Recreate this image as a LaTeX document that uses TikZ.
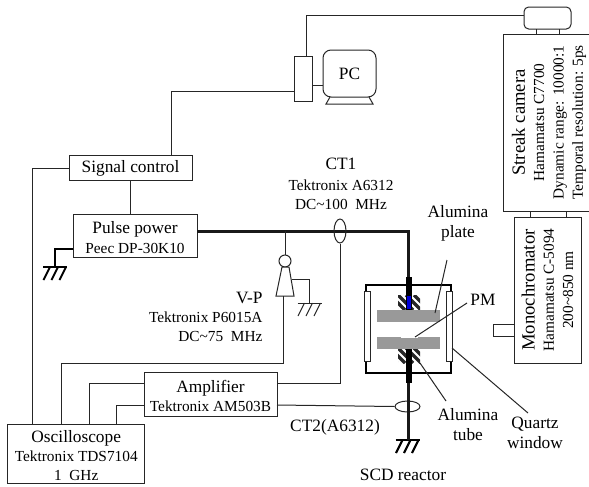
\documentclass[tikz,border=0pt]{standalone}
\usepackage{fontspec}
\setmainfont{Liberation Serif}
\usetikzlibrary{shapes.geometric}

\newcommand{\headfont}{\fontsize{13}{15}\selectfont}
\newcommand{\subfont}{\fontsize{11.5}{14.5}\selectfont}
\newcommand{\headgap}{\rule{0pt}{12pt}}

\tikzset{every picture/.style={line width=0.75pt},
  thin line/.style={draw=black!85,line width=0.75pt},
  heavy line/.style={draw=black!90,line width=2.25pt},
  box/.style={draw=black!85,line width=0.75pt,rectangle,fill=white,inner sep=0pt,align=center,font=\subfont},
  plate/.style={rectangle,fill=black!40,inner sep=0pt,minimum width=47.25pt,minimum height=9pt},
  windowbar/.style={box,minimum width=4.5pt,minimum height=52.5pt},
  label/.style={inner sep=0pt,align=center,font=\subfont},
  bigger label/.style={inner sep=0pt,align=center,font=\headfont},
  pics/earthmark/.style={code={
    \coordinate (-top) at (0,0);
    \draw (-12,0) -- (12,0);
    \foreach \tipx in {-8,0,8} {\draw (\tipx+3,0) -- (\tipx-3.5,-13);}
  }}
}

\begin{document}
\begin{tikzpicture}[x=0.75pt,y=0.75pt,yscale=-1,xscale=1]
\useasboundingbox (0,0) rectangle (589,486);

% Boxes
\node (sigctl) [box,minimum width=92.25pt,minimum height=18.4pt] at (130.5,168) {\headfont Signal control};
\node (pulse) [box,minimum width=93pt,minimum height=32.25pt] at (135,235.5) {\headgap{\headfont Pulse power}\\Peec DP-30K10};
\node (amp) [box,minimum width=99.75pt,minimum height=33pt] at (210.5,394) {\headgap{\headfont Amplifier}\\Tektronix AM503B};
\node (scope) [box,minimum width=103pt,minimum height=44.25pt] at (76.25,453.5) {\headgap{\headfont Oscilloscope}\\Tektronix TDS7104\\1\ \ GHz};
\node (pcbox) [box,minimum width=13.5pt,minimum height=33.75pt] at (303,78.5) {};
\node (pc) [box,rounded corners=6pt,minimum width=39.75pt,minimum height=35.25pt] at (349.5,73.5) {\headfont PC};
\node (camhead) [box,rounded corners=3.5pt,minimum width=35.25pt,minimum height=16.5pt] at (547.5,18) {};
\node (streak) [box,rotate=90,minimum width=132.75pt,minimum height=69pt] at (549,122.5) {{\fontsize{14}{15}\selectfont Streak camera}\\Hamamatsu C7700\\Dynamic range: 10000:1\\Temporal resolution: 5ps};
\node (mono) [box,rotate=90,minimum width=109.5pt,minimum height=50.25pt] at (547.5,290) {{\fontsize{14}{15}\selectfont Monochromator}\\Hamamatsu C-5094\\200\textasciitilde 850 nm};
\node (monoport) [box,minimum width=15.75pt,minimum height=9pt] at (503.5,330) {};

% PC stand
\draw [thin line] (330,97) -- (326,104) -- (373,104) -- (369,97);

% Connection points
\coordinate (sigout) at (171,156);
\coordinate (pcboxin) at (294,91);
\coordinate (pcboxtop) at (306,56);
\coordinate (camin) at (524,15);
\coordinate (pclink) at (323,85);
\coordinate (scopeA) at (32,424);
\coordinate (scopeB) at (61,424);
\coordinate (scopeC) at (89,424);
\coordinate (scopeD) at (116,424);
\coordinate (ampA) at (144,383);
\coordinate (ampB) at (144,405);
\coordinate (ampC) at (277,383);
\coordinate (ampD) at (277,405);
\coordinate (pulseout) at (197,231);
\coordinate (pulsegnd) at (73,249);
\coordinate (vtap) at (285,231);
\coordinate (probeout) at (283,296);
\coordinate (probegnd) at (292,279);
\coordinate (electop) at (408.5,277);
\coordinate (elecbottom) at (408.5,383);

% Thin wires
\draw [thin line] (sigout) |- (pcboxin);
\draw [thin line] (pcboxtop) |- (camin);
\draw [thin line] (pclink -| pcbox.east) -- (pclink);
\draw [thin line] (sigctl.west) -| (scopeA);
\draw [thin line] (sigctl.south) -- (sigctl.south |- pulse.north);
\draw [thin line] (ampA) -| (scopeC);
\draw [thin line] (ampB) -| (scopeD);
\foreach \legx in {536,559} {\draw [thin line] (\legx,29) -- (\legx,34);}
\foreach \legx in {530,566} {\draw [thin line] (\legx,211) -- (\legx,217);}

% Main discharge line
\draw [heavy line] (pulseout) -| (electop);

% V-P probe
\node (probehead) [draw=black!85,circle,fill=white,inner sep=0pt,minimum size=9pt] at (285,261) {};
\draw [thin line] (vtap) -- (probehead.north);
\draw [thin line,fill=white] (282,267) -- (289,267) -- (294,296) -- (276,296) -- cycle;
\draw [thin line] (probeout) -- ++(0,67) -| (scopeB);
\pic (gndprobe) [thin line] at (309.5,303) {earthmark};
\draw [thin line] (probegnd) -| (gndprobe-top);

% Current monitors
\node (ct1) [draw=black!85,ellipse,inner sep=0pt,minimum width=9pt,minimum height=18pt] at (340,231) {};
\node (ct2) [draw=black!85,ellipse,inner sep=0pt,minimum width=18.75pt,minimum height=8.25pt] at (407.5,406.5) {};
\draw [thin line] (ct1.south) |- (ampC);
\draw [thin line] (ampD) -- (ct2.west);

% Pulse power earth
\pic (gndpulse) [line width=1.5pt] at (55,267) {earthmark};
\draw [line width=1.5pt] (pulsegnd) -| (gndpulse-top);

% Reactor
\node (vessel) [draw=black,line width=2pt,rectangle,inner sep=0pt,minimum width=63.75pt,minimum height=66pt] at (408.5,329) {};
\node (winleft) [windowbar] at (367,326) {};
\node (winright) [windowbar] at (449.5,326) {};

% Hatched alumina tubes
\foreach \tubey in {295,348} {
  \begin{scope}
    \clip (398,\tubey) rectangle (420,\tubey+15);
    \foreach \stripe in {-16,-8,...,32} {
      \draw [line width=2.4pt,black!85] (398+\stripe,\tubey) -- (398+\stripe+15,\tubey+15);
    }
  \end{scope}
}

% Electrodes
\fill [black] (405.5,277) rectangle (412,310);
\fill [blue!85!black] (407,296) rectangle (411,309);
\fill [black] (405.5,349) rectangle (412,383);
\pic (gndreactor) [line width=1.6pt] at (407.5,440) {earthmark};
\draw [heavy line] (elecbottom) -- (elecbottom |- gndreactor-top);

% Alumina plates
\node (upperplate) [plate] at (408.5,316) {};
\node (lowerplate) [plate] at (408.5,343) {};
\fill [white] (401,336.5) rectangle (418,338);

% Leaders
\coordinate (plateleadA) at (447,260);
\coordinate (plateleadB) at (435,313);
\coordinate (pmleadA) at (467,303);
\coordinate (pmleadB) at (415,337);
\coordinate (windowleadA) at (452,348);
\coordinate (windowleadB) at (528,413);
\coordinate (tubeleadA) at (420,363);
\coordinate (tubeleadB) at (446,401);
\draw [thin line] (plateleadA) -- (plateleadB);
\draw [thin line] (pmleadA) -- (pmleadB);
\draw [thin line] (windowleadA) -- (windowleadB);
\draw [thin line] (tubeleadA) -- (tubeleadB);

% Text Node
\node (ct1text) [label] at (341,184) {{\headfont CT1}\\[1pt]Tektronix A6312\\DC\textasciitilde 100\ \ MHz};
% Text Node
\node (vptext) [label,align=right,anchor=east] at (263,317) {{\headfont V-P}\\Tektronix P6015A\\DC\textasciitilde 75\ \ MHz};
% Text Node
\node (platetext) [bigger label] at (458,223) {Alumina\\plate};
% Text Node
\node (pmtext) [bigger label] at (483,300) {PM};
% Text Node
\node (tubetext) [bigger label] at (468,424.5) {Alumina\\tube};
% Text Node
\node (windowtext) [bigger label] at (535,433) {Quartz\\window};
% Text Node
\node (ct2text) [bigger label] at (335,427) {CT2(A6312)};
% Text Node
\node (reactortext) [bigger label] at (403,475) {SCD reactor};

\end{tikzpicture}
\end{document}
